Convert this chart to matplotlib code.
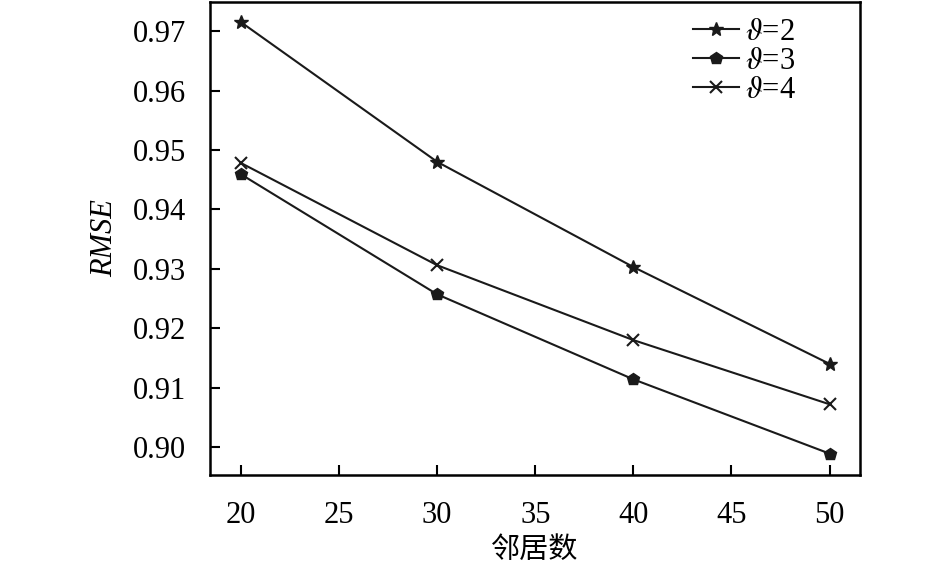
import matplotlib
matplotlib.use("Agg")
import matplotlib.pyplot as plt

# 数据
neighbors = [20, 30, 40, 50]
rmse_t2 = [0.9715, 0.9480, 0.9303, 0.9140]
rmse_t3 = [0.9459, 0.9257, 0.9114, 0.8989]
rmse_t4 = [0.9478, 0.9306, 0.9180, 0.9072]
x_ticks = [20, 25, 30, 35, 40, 45, 50]
y_ticks = [0.90, 0.91, 0.92, 0.93, 0.94, 0.95, 0.96, 0.97]

plt.rcParams['font.family'] = ['Liberation Serif', 'Noto Sans CJK SC']
plt.rcParams['mathtext.fontset'] = 'stix'

fig = plt.figure(figsize=(9.45, 5.66), dpi=100)
ax = fig.add_axes([0.2222, 0.1608, 0.6878, 0.8357])

ax.plot(neighbors, rmse_t2, color='#1a1a1a', lw=1.5, marker='*', ms=10, label=r'$\vartheta$=2')
ax.plot(neighbors, rmse_t3, color='#1a1a1a', lw=1.5, marker='p', ms=9, label=r'$\vartheta$=3')
ax.plot(neighbors, rmse_t4, color='#1a1a1a', lw=1.5, marker='x', ms=9, mew=1.5, label=r'$\vartheta$=4')

ax.set_xlim(18.42, 51.55)
ax.set_ylim(0.8953, 0.9749)
ax.set_xticks(x_ticks)
ax.set_yticks(y_ticks)
ax.set_yticklabels([f"{v:.2f}" for v in y_ticks])
ax.tick_params(direction='in', length=7, width=1.5, labelsize=22)
ax.tick_params(axis='y', pad=17)
ax.tick_params(axis='x', pad=19)
for s in ax.spines.values():
    s.set_linewidth(1.8)

ax.set_xlabel('邻居数', fontsize=21, family=['Noto Sans CJK SC'], labelpad=3)
ax.set_ylabel('RMSE', fontsize=22, style='italic', labelpad=10)

leg = ax.legend(loc='upper right', bbox_to_anchor=(0.93, 1.005), frameon=False, fontsize=22,
                handlelength=1.5, handletextpad=0.2, labelspacing=0.0, borderaxespad=0.2)

fig.savefig('out.png', dpi=100)
